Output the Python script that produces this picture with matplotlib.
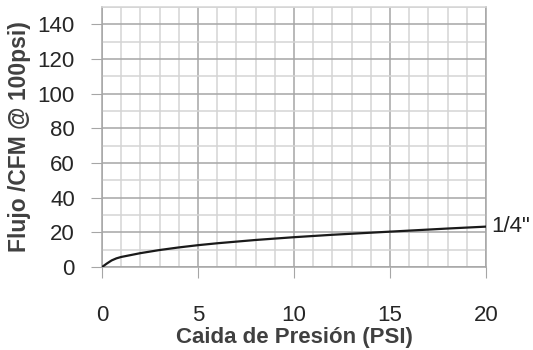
import numpy as np
import matplotlib.pyplot as plt
from matplotlib.ticker import MultipleLocator

# caida de presion (PSI) vs flujo (CFM @ 100psi)
presion = [0, 0.25, 0.5, 0.75, 1, 2, 3, 4, 5, 6, 8, 10, 12, 15, 18, 20]
flujo = [0, 2.0, 3.8, 5.0, 5.8, 8.0, 9.8, 11.3, 12.6, 13.7, 15.6, 17.2, 18.6, 20.4, 22.2, 23.3]
etiqueta = '1/4"'

plt.rcParams['font.family'] = ['Liberation Sans', 'DejaVu Sans']

fig = plt.figure(figsize=(5.33, 3.5), dpi=100)
ax = fig.add_axes([0.1914, 0.2371, 0.7204, 0.7429])

ax.plot(presion, flujo, color='#1a1a1a', lw=1.6, zorder=3)
ax.text(presion[-1] + 0.25, flujo[-1], etiqueta, fontsize=16, va='center', ha='left',
        color='#222222', clip_on=False)

ax.set_xlim(0, 20)
ax.set_ylim(0, 150)
ax.xaxis.set_major_locator(MultipleLocator(5))
ax.xaxis.set_minor_locator(MultipleLocator(1))
ax.set_yticks(np.arange(0, 141, 20))
ax.yaxis.set_minor_locator(MultipleLocator(10))

ax.grid(which='major', color='#a6a6a6', lw=1.1)
ax.grid(which='minor', color='#d4d4d4', lw=1.1)
ax.set_axisbelow(True)

for s in ax.spines.values():
    s.set_color('#a6a6a6')
    s.set_linewidth(1.1)
ax.spines['top'].set_color('#d4d4d4')

ax.tick_params(which='major', length=8, color='#a6a6a6', labelsize=16, labelcolor='#262626')
ax.tick_params(axis='x', which='major', pad=19)
ax.tick_params(axis='y', which='major', pad=11.5)
ax.tick_params(which='minor', length=0)

ax.set_xlabel('Caida de Presión (PSI)', fontsize=16, fontweight='bold', color='#404040', labelpad=1)
ax.set_ylabel('Flujo /CFM @ 100psi)', fontsize=16.5, fontweight='bold', color='#404040', labelpad=5)

fig.savefig('out.png', dpi=100)
